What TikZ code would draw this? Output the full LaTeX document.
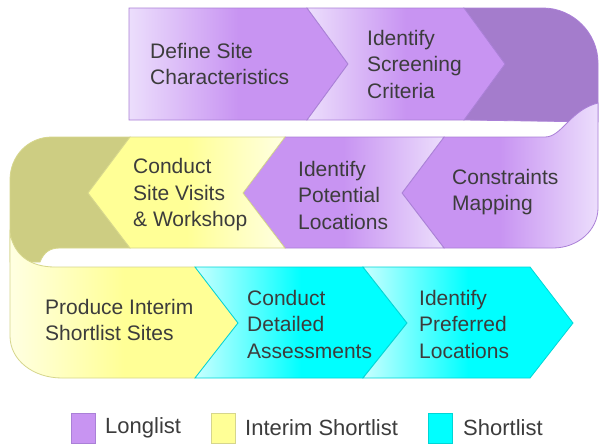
\documentclass[tikz,border=0pt]{standalone}
\usepackage{fontspec}
\setmainfont{Liberation Sans}
\usepackage{tikz}

\definecolor{lav}{RGB}{200,148,242}
\definecolor{lavlight}{RGB}{236,222,252}
\definecolor{lavline}{RGB}{170,128,215}
\definecolor{lavback}{RGB}{164,124,204}
\definecolor{lemon}{RGB}{255,255,150}
\definecolor{lemonlight}{RGB}{255,255,226}
\definecolor{lemonline}{RGB}{214,214,140}
\definecolor{olive}{RGB}{205,205,130}
\definecolor{aqua}{RGB}{0,255,255}
\definecolor{aqualight}{RGB}{200,255,255}
\definecolor{aqualine}{RGB}{0,214,214}
\definecolor{textgray}{RGB}{60,60,60}

\newcommand\stepfont{\fontsize{21}{26.5}\selectfont}
\newcommand\keyfont{\fontsize{22}{26}\selectfont}

\begin{document}
\begin{tikzpicture}[x=1pt,y=-1pt,
    longright/.style={draw=lavline,line width=0.8pt,left color=lavlight,right color=lav,middle color=lav},
    longleft/.style={draw=lavline,line width=0.8pt,left color=lav,right color=lavlight,middle color=lav},
    interimright/.style={draw=lemonline,line width=0.8pt,left color=lemonlight,right color=lemon,middle color=lemon},
    interimleft/.style={draw=lemonline,line width=0.8pt,left color=lemon,right color=lemonlight,middle color=lemon},
    shortright/.style={draw=aqualine,line width=0.8pt,left color=aqualight,right color=aqua,middle color=aqua},
    steptext/.style={anchor=west,align=left,text=textgray,font=\stepfont,inner sep=0pt},
    keybox/.style={line width=0.8pt,minimum width=24pt,minimum height=30pt,inner sep=0pt},
    keytext/.style={anchor=west,text=textgray,font=\keyfont,inner sep=0pt}]
\fill[white] (0,0) rectangle (600,445);
\useasboundingbox (0,0) rectangle (600,445);

\begin{scope}
    % back of the right turn
    \draw[lavline,fill=lavback,line width=0.8pt] (464,8) -- (543,8) .. controls (573,8) and (598,33) .. (598,63)
        -- (598,122) -- (464,120) -- (505,64) -- cycle;

    % top row
    \draw[longright] (129,8) -- (307,8) -- (348,64) -- (307,120) -- (129,120) -- cycle;
    \draw[longright] (307,8) -- (464,8) -- (505,64) -- (464,120) -- (307,120) -- (348,64) -- cycle;

    % back of the left turn
    \draw[lemonline,fill=olive,line width=0.8pt] (130,137) -- (52,137) .. controls (28,137) and (10,156) .. (10,180)
        -- (10,262) -- (40,262) .. controls (44,252) and (50,248) .. (60,248) -- (130,248) -- (88,193) -- cycle;

    % middle row, running left
    \draw[longleft] (402,193) -- (444,137) -- (545,137) .. controls (562,137) and (570,110) .. (598,103)
        -- (598,208) .. controls (598,230) and (578,248) .. (553,248) -- (444,248) -- cycle;
    \draw[longleft] (285,137) -- (444,137) -- (402,193) -- (444,248) -- (285,248) -- (243,193) -- cycle;
    \draw[interimleft] (130,137) -- (285,137) -- (243,193) -- (285,248) -- (130,248) -- (88,193) -- cycle;

    % bottom row
    \draw[interimright] (10,233) .. controls (14,255) and (30,267) .. (55,267) -- (195,267) -- (238,323)
        -- (195,378) -- (62,378) .. controls (33,378) and (10,360) .. (10,336) -- cycle;
    \draw[shortright] (195,267) -- (363,267) -- (407,323) -- (363,378) -- (195,378) -- (238,323) -- cycle;
    \draw[shortright] (363,267) -- (530,267) -- (573,323) -- (530,378) -- (363,378) -- (407,323) -- cycle;
\end{scope}

\node[steptext] (define) at (150,64) {Define Site\\Characteristics};
\node[steptext] (screening) at (367,64) {Identify\\Screening\\Criteria};
\node[steptext] (constraints) at (452,192) {Constraints\\Mapping};
\node[steptext] (potential) at (298,195) {Identify\\Potential\\Locations};
\node[steptext] (visits) at (133,195) {Conduct\\Site Visits\\\&~Workshop};
\node[steptext] (interim) at (45,320) {Produce Interim\\Shortlist Sites};
\node[steptext] (detailed) at (247,324) {Conduct\\Detailed\\Assessments};
\node[steptext] (preferred) at (419,324) {Identify\\Preferred\\Locations};

% key
\node[keybox,draw=lavline,fill=lav] (longbox) at (83,428) {};
\node[keytext] (longkey) at (105,428) {Longlist};
\node[keybox,draw=lemonline,fill=lemon] (interimbox) at (223,428) {};
\node[keytext] (interimkey) at (245,428) {Interim Shortlist};
\node[keybox,draw=aqualine,fill=aqua] (shortbox) at (440,428) {};
\node[keytext] (shortkey) at (463,428) {Shortlist};
\end{tikzpicture}
\end{document}
